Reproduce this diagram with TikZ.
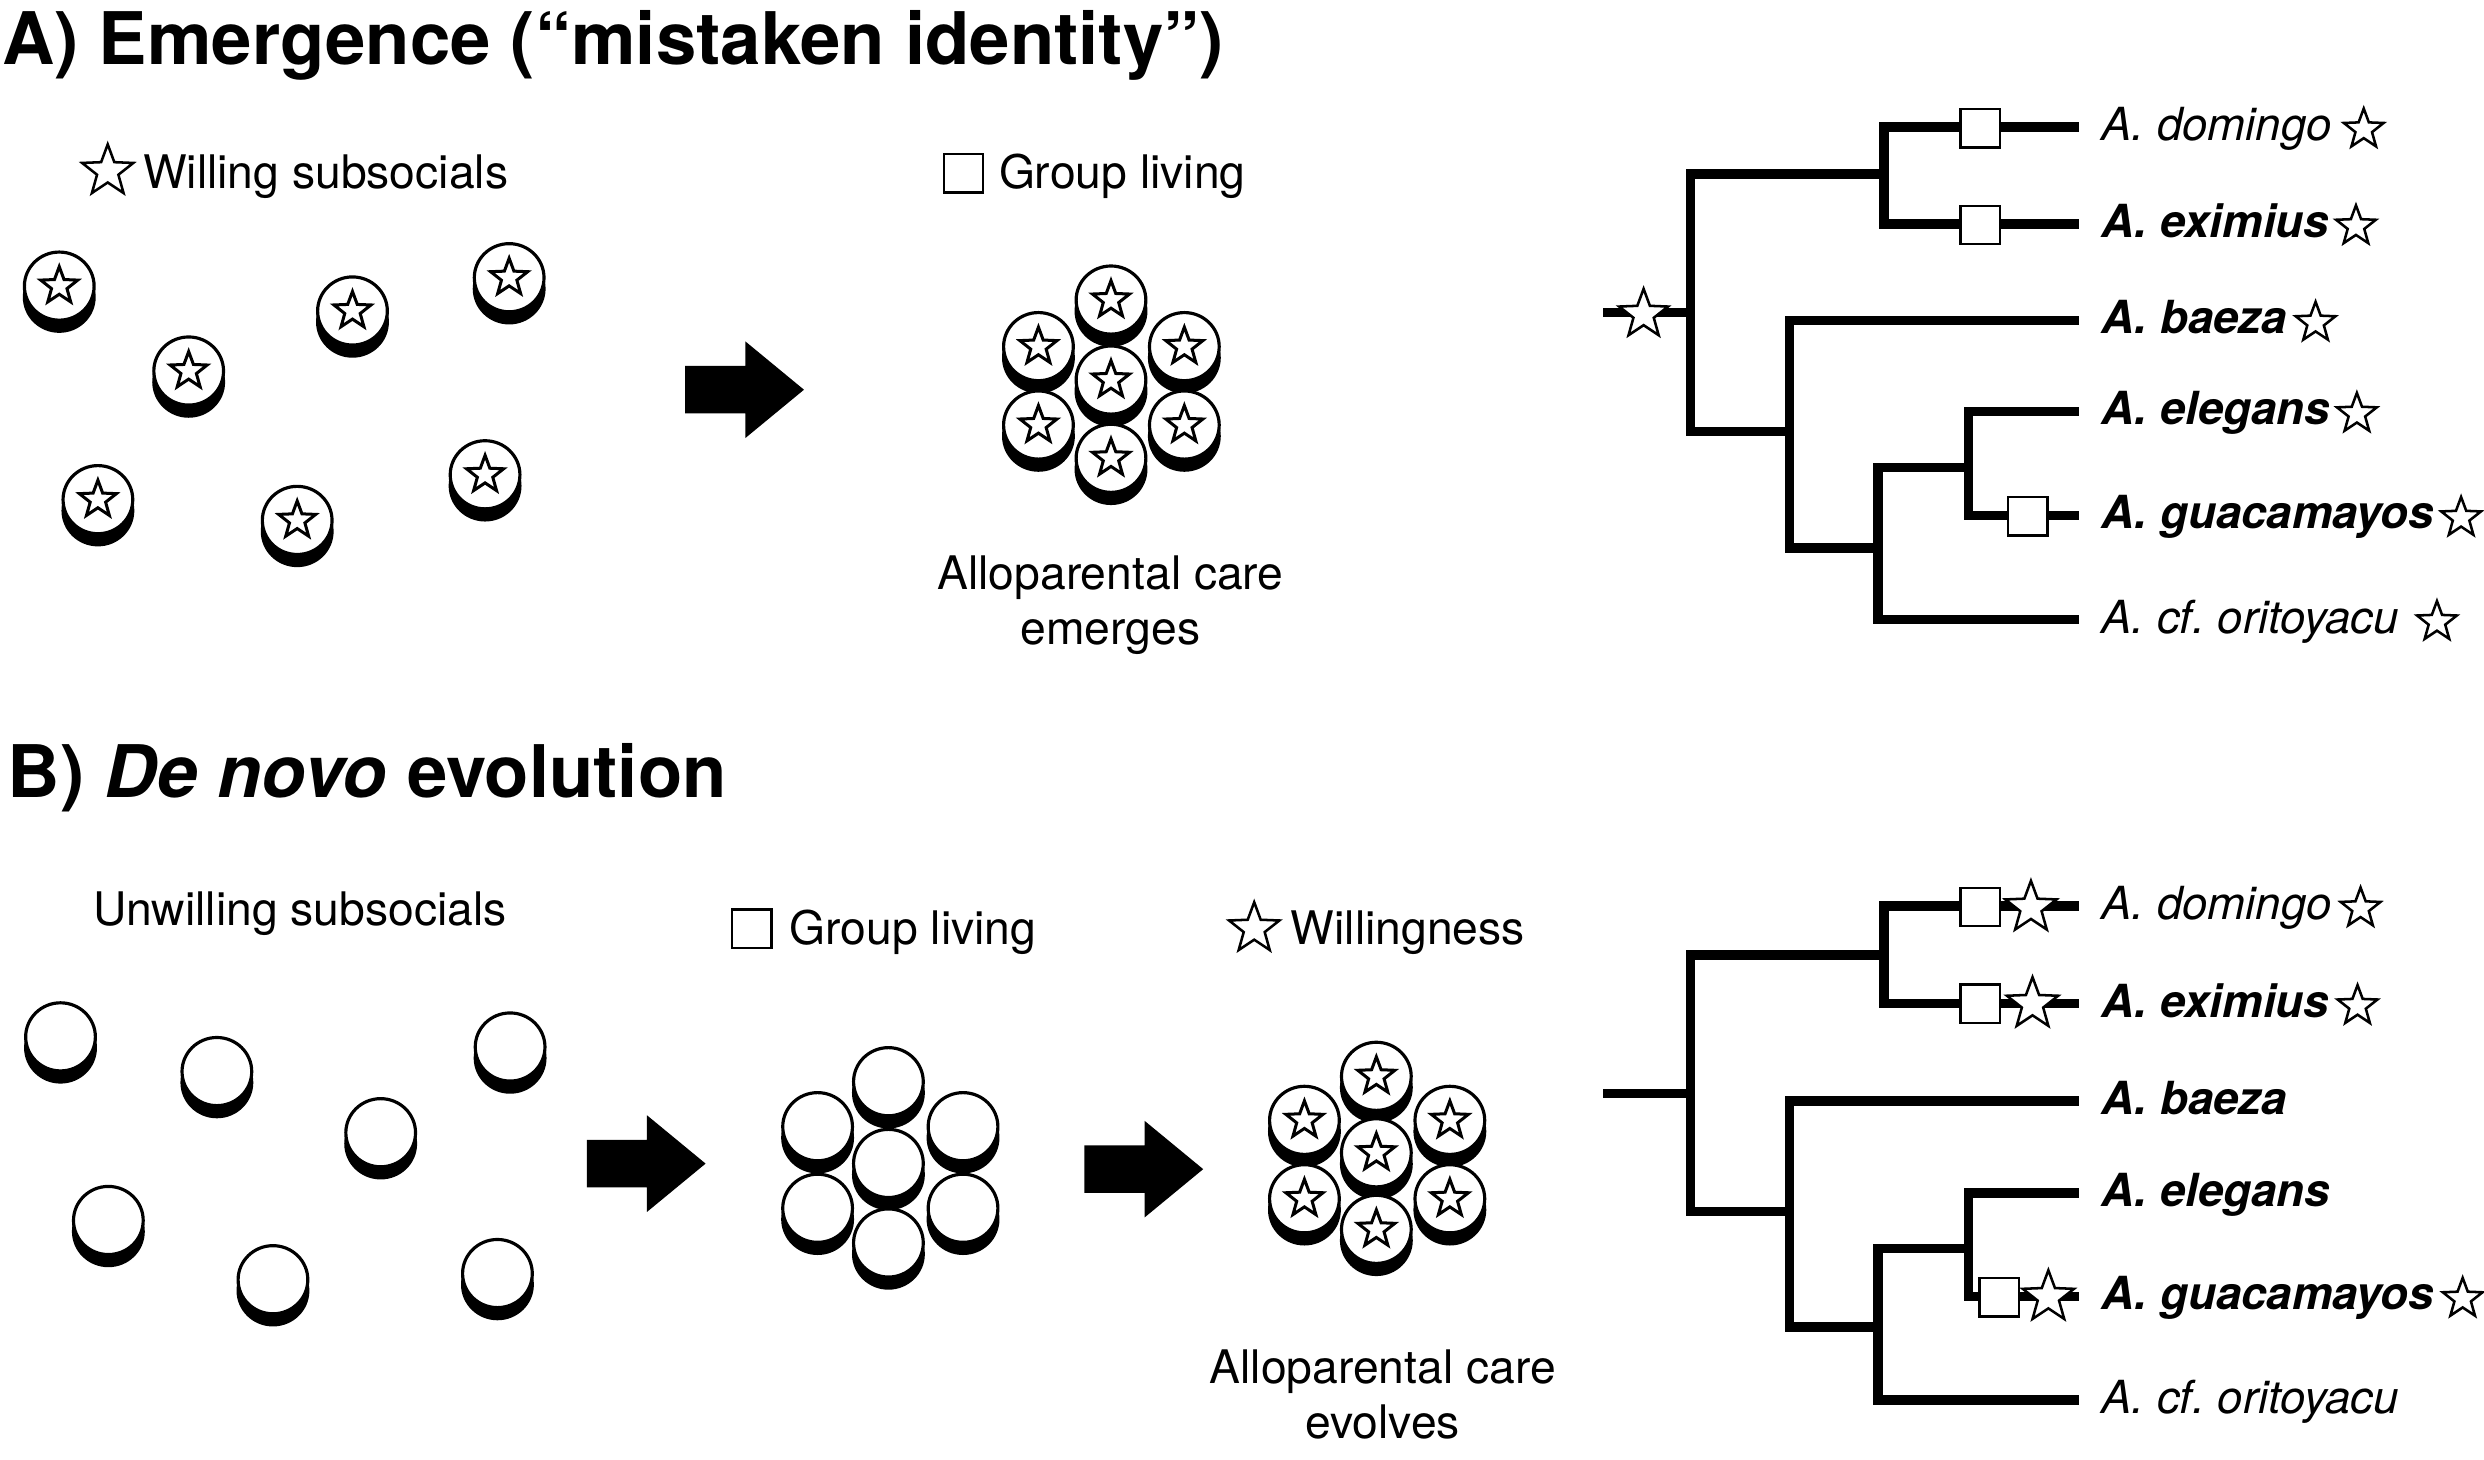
\documentclass[tikz,border=0pt]{standalone}
\usepackage{fontspec}
\setmainfont{TeX Gyre Heros}
\usetikzlibrary{shapes.geometric}
\tikzset{
  treeline/.style={line width=3pt, line join=miter, line cap=butt},
  coinshadow/.style={fill=black, draw=black, line width=1pt},
  coinface/.style={fill=white, draw=black, line width=1pt},
  dstar/.style={star, star points=5, star point ratio=2.4, draw=black, fill=white, line width=0.95pt, inner sep=0pt, outer sep=0pt, minimum size=12.3pt},
  bstar/.style={dstar, line width=0.8pt, minimum size=#1},
  sq/.style={rectangle, draw=black, fill=white, line width=0.75pt, inner sep=0pt, outer sep=0pt, minimum width=12.4pt, minimum height=12.1pt},
  lbl/.style={inner sep=0pt, anchor=base west, font=\fontsize{14.6pt}{17.5pt}\selectfont},
  ctr/.style={inner sep=0pt, anchor=base, font=\fontsize{14.6pt}{17.5pt}\selectfont},
  taxon/.style={inner sep=0pt, anchor=base west, font=\fontsize{14.4pt}{17pt}\selectfont\itshape},
  btaxon/.style={inner sep=0pt, anchor=base west, font=\fontsize{14.4pt}{17pt}\selectfont\bfseries\itshape},
  ttl/.style={inner sep=0pt, anchor=base west, font=\fontsize{22.9pt}{27pt}\selectfont\bfseries},
  blockarrow/.style={fill=black},
}
\newcommand{\coinB}[2]{%
  \filldraw[coinshadow] (#1,#2+7) ellipse [x radius=11pt, y radius=10.75pt];
  \filldraw[coinface] (#1,#2) ellipse [x radius=11pt, y radius=10.75pt];}
\newcommand{\coinS}[3]{\coinB{#2}{#3}\node[dstar] (#1) at (#2,#3) {};}
\newcommand{\blockarr}[2]{%
  \fill[blockarrow] (#1,#2-15) -- (#1+38,#2-15) -- (#1+38,#2-30.5) -- (#1+75,#2)
    -- (#1+38,#2+30.5) -- (#1+38,#2+15) -- (#1,#2+15) -- cycle;}
\begin{document}
\begin{tikzpicture}[x=0.5pt,y=-0.5pt]
\useasboundingbox (0,0) rectangle (1568,921.6);

% ---------------- Titles
\node[ttl] (titleA) at (1,40.6) {A) Emergence (“mistaken identity”)};
\node[ttl] (titleB) at (4.6,503.7) {B) \textit{De novo} evolution};

% ---------------- Panel A
\node[bstar=17pt] (legA1) at (68,108.1) {};
\node[lbl] (legA1t) at (90,119.1) {Willing subsocials};
\node[sq] (legA2) at (608.1,109.5) {};
\node[lbl] (legA2t) at (630.2,119.1) {Group living};

\coinS{ca1}{37.4}{180.6}
\coinS{ca2}{119.1}{234.2}
\coinS{ca3}{222.5}{196.3}
\coinS{ca4}{321.4}{175.3}
\coinS{ca5}{61.8}{315.4}
\coinS{ca6}{187.6}{328.5}
\coinS{ca7}{306.2}{299.7}

\blockarr{432.5}{246}

\coinS{cA1}{701.3}{189.4}
\coinS{cA2}{655.5}{218.8}
\coinS{cA3}{747.6}{218.8}
\coinS{cA4}{701.3}{239.9}
\coinS{cA5}{655.5}{268.3}
\coinS{cA6}{747.6}{268.3}
\coinS{cA7}{701.3}{289.3}
\node[ctr] (careA1) at (701,372) {Alloparental care};
\node[ctr] (careA2) at (701,407) {emerges};

% tree A
\coordinate (Ar) at (1012,197.4);
\coordinate (A0) at (1067,197.4);
\coordinate (A1) at (1189.3,109.9);
\coordinate (A2) at (1129.5,272.3);
\coordinate (A3) at (1185.5,345.9);
\coordinate (A4) at (1242.5,295.2);
\coordinate (Ad) at (1312.3,80.2);
\coordinate (Ae) at (1312.3,141.3);
\coordinate (Ab) at (1312.3,202.2);
\coordinate (Ael) at (1312.3,259.7);
\coordinate (Ag) at (1312.3,325.4);
\coordinate (Ao) at (1312.3,391.1);
\draw[treeline] (Ar) -- (A0);
\draw[treeline] (A1) -| (A0) |- (A2);
\draw[treeline] (Ad) -| (A1) |- (Ae);
\draw[treeline] (Ab) -| (A2) |- (A3);
\draw[treeline] (A4) -| (A3) |- (Ao);
\draw[treeline] (Ael) -| (A4) |- (Ag);

\node[sq] (mAd) at (1250,81) {};
\node[sq] (mAe) at (1250,142) {};
\node[sq] (mAg) at (1280,326) {};
\node[bstar=16.2pt] (mAr) at (1037.5,198.5) {};

\node[taxon]  (tAd) at (1326,88.7)  {A. domingo};
\node[btaxon] (tAe) at (1326,149.8) {A. eximius};
\node[btaxon] (tAb) at (1326,210.7) {A. baeza};
\node[btaxon] (tAl) at (1326,268.2) {A. elegans};
\node[btaxon] (tAg) at (1326,333.9) {A. guacamayos};
\node[taxon]  (tAo) at (1326,399.6) {A. cf.\ oritoyacu};
\node[bstar=13.2pt] (sAd) at ([xshift=9.8pt,yshift=3.5pt]tAd.base east) {};
\node[bstar=13.2pt] (sAe) at ([xshift=8.3pt,yshift=3.5pt]tAe.base east) {};
\node[bstar=13.2pt] (sAb) at ([xshift=8.8pt,yshift=3.5pt]tAb.base east) {};
\node[bstar=13.2pt] (sAl) at ([xshift=8.3pt,yshift=3.5pt]tAl.base east) {};
\node[bstar=13.2pt] (sAg) at ([xshift=8.3pt,yshift=3.5pt]tAg.base east) {};
\node[bstar=13.2pt] (sAo) at ([xshift=11.8pt,yshift=3.5pt]tAo.base east) {};

% ---------------- Panel B
\node[lbl] (legB1t) at (58.5,584.5) {Unwilling subsocials};
\node[sq] (legB2) at (474.6,586.2) {};
\node[lbl] (legB2t) at (498,596) {Group living};
\node[bstar=16.7pt] (legB3) at (791.7,586.2) {};
\node[lbl] (legB3t) at (814.5,596) {Willingness};

\coinB{38.2}{654.5}
\coinB{136.9}{676.4}
\coinB{322}{660.9}
\coinB{240.3}{715.0}
\coinB{68.4}{770.4}
\coinB{172.3}{807.8}
\coinB{314}{803.9}

\blockarr{370.4}{734.5}

\coinB{560.8}{682.8}
\coinB{516.1}{711.2}
\coinB{607.9}{711.2}
\coinB{560.8}{734.4}
\coinB{516.1}{762.7}
\coinB{607.9}{762.7}
\coinB{560.8}{784.6}

\blockarr{684.5}{738}

\coinS{cB1}{868.8}{679.4}
\coinS{cB2}{823.4}{707.2}
\coinS{cB3}{915.2}{707.2}
\coinS{cB4}{868.8}{727.7}
\coinS{cB5}{823.4}{756.7}
\coinS{cB6}{915.2}{756.7}
\coinS{cB7}{868.8}{776}
\node[ctr] (careB1) at (872.8,873) {Alloparental care};
\node[ctr] (careB2) at (872.8,908) {evolves};

% tree B
\coordinate (Br) at (1012,690.3);
\coordinate (B0) at (1067,690.3);
\coordinate (B1) at (1189.3,602.8);
\coordinate (B2) at (1129.5,764.7);
\coordinate (B3) at (1185.5,837.7);
\coordinate (B4) at (1242.5,788.1);
\coordinate (Bd) at (1312.3,571.9);
\coordinate (Be) at (1312.3,633.5);
\coordinate (Bb) at (1312.3,695.1);
\coordinate (Bel) at (1312.3,753.1);
\coordinate (Bg) at (1312.3,818.3);
\coordinate (Bo) at (1312.3,883.6);
\draw[treeline] (Br) -- (B0);
\draw[treeline] (B1) -| (B0) |- (B2);
\draw[treeline] (Bd) -| (B1) |- (Be);
\draw[treeline] (Bb) -| (B2) |- (B3);
\draw[treeline] (B4) -| (B3) |- (Bo);
\draw[treeline] (Bel) -| (B4) |- (Bg);

\node[sq] (mBd) at (1250,572.5) {};
\node[bstar=17pt] (nBd) at (1282,573) {};
\node[sq] (mBe) at (1250,633.5) {};
\node[bstar=17pt] (nBe) at (1283,633.8) {};
\node[sq] (mBg) at (1262,818.8) {};
\node[bstar=17pt] (nBg) at (1293,818.8) {};

\node[taxon]  (tBd) at (1326,580.4) {A. domingo};
\node[btaxon] (tBe) at (1326,642)   {A. eximius};
\node[btaxon] (tBb) at (1326,703.6) {A. baeza};
\node[btaxon] (tBl) at (1326,761.6) {A. elegans};
\node[btaxon] (tBg) at (1326,826.8) {A. guacamayos};
\node[taxon]  (tBo) at (1326,892.1) {A. cf.\ oritoyacu};
\node[bstar=13.2pt] (sBd) at ([xshift=8.8pt,yshift=3.5pt]tBd.base east) {};
\node[bstar=13.2pt] (sBe) at ([xshift=8.8pt,yshift=3.5pt]tBe.base east) {};
\node[bstar=13.2pt] (sBg) at ([xshift=8.8pt,yshift=3.5pt]tBg.base east) {};
\end{tikzpicture}
\end{document}
